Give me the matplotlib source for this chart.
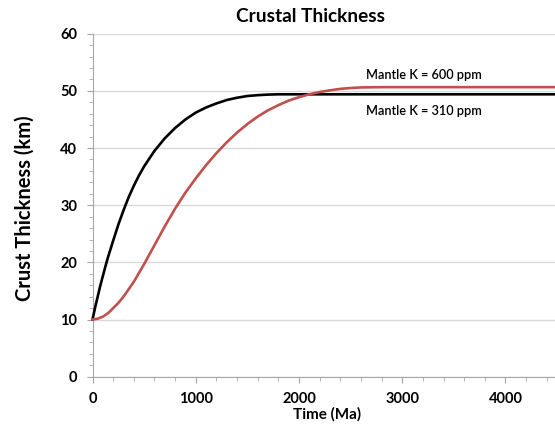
import numpy as np
import matplotlib
matplotlib.use('Agg')
import matplotlib.pyplot as plt
from matplotlib.ticker import MultipleLocator

# values (time in Ma, thickness in km)
time_k310 = [0, 25, 50, 75, 100, 125, 150, 200, 250, 300, 350, 400, 450, 500, 600, 700,
             800, 900, 1000, 1100, 1200, 1300, 1400, 1500, 1600, 1700, 1800, 2000, 3000, 4500]
crust_k310 = [10, 12.1, 14.0, 15.9, 17.6, 19.3, 20.9, 23.8, 26.6, 29.1, 31.4, 33.4, 35.2, 36.8,
              39.5, 41.7, 43.5, 45.0, 46.2, 47.1, 47.8, 48.4, 48.8, 49.1, 49.25, 49.35, 49.4,
              49.4, 49.4, 49.4]

time_k600 = [0, 50, 100, 150, 200, 250, 300, 400, 500, 600, 700, 800, 900, 1000, 1100, 1200,
             1300, 1400, 1500, 1600, 1700, 1800, 1900, 2000, 2100, 2200, 2300,
             2400, 2500, 2600, 2800, 3000, 4500]
crust_k600 = [10, 10.15, 10.5, 11.1, 12.0, 12.9, 14.0, 16.6, 19.7, 23.0, 26.3, 29.4, 32.2, 34.7,
              37.0, 39.1, 41.0, 42.7, 44.2, 45.5, 46.6, 47.5, 48.3, 48.9, 49.4, 49.8, 50.1,
              50.35, 50.5, 50.6, 50.65, 50.65, 50.65]

labels = ['Mantle K = 600 ppm', 'Mantle K = 310 ppm']

plt.rcParams['font.family'] = ['Lato', 'DejaVu Sans']

fig = plt.figure(figsize=(5.55, 4.25), dpi=100)
ax = fig.add_axes([0.1667, 0.1136, 0.8333, 0.8071])

ax.plot(time_k310, crust_k310, color='black', lw=1.9, clip_on=False, zorder=3)
ax.plot(time_k600, crust_k600, color='#C0504D', lw=1.9, clip_on=False, zorder=3)

ax.text(2650, 52.7, labels[0], fontsize=9.2, fontweight='semibold', va='center')
ax.text(2650, 46.4, labels[1], fontsize=9.2, fontweight='semibold', va='center')

ax.set_xlim(0, 4480)
ax.set_ylim(0, 60)
ax.xaxis.set_major_locator(MultipleLocator(1000))
ax.xaxis.set_minor_locator(MultipleLocator(200))
ax.yaxis.set_major_locator(MultipleLocator(10))
ax.yaxis.set_minor_locator(MultipleLocator(2))
ax.grid(axis='y', which='major', color='#D9D9D9', lw=1)
ax.set_axisbelow(True)

for s in ['top', 'right']:
    ax.spines[s].set_visible(False)
for s in ['left', 'bottom']:
    ax.spines[s].set_color('#A6A6A6')
ax.tick_params(which='both', color='#A6A6A6', direction='out')
ax.tick_params(which='major', length=4, labelsize=10.5)
ax.tick_params(which='minor', length=3)
ax.tick_params(axis='y', pad=7)
ax.tick_params(axis='x', pad=7)
for lbl in ax.get_xticklabels() + ax.get_yticklabels():
    lbl.set_fontweight('bold')

fig.text(311 / 555, 1 - 16 / 425, 'Crustal Thickness', fontsize=13.7, fontweight='bold',
         ha='center', va='center')
fig.text(327 / 555, 1 - 414 / 425, 'Time (Ma)', fontsize=11, fontweight='bold',
         ha='center', va='center')
fig.text(25 / 555, 1 - 208 / 425, 'Crust Thickness (km)', fontsize=14.5, fontweight='bold',
         ha='center', va='center', rotation=90)

fig.savefig('out.png', dpi=100)
